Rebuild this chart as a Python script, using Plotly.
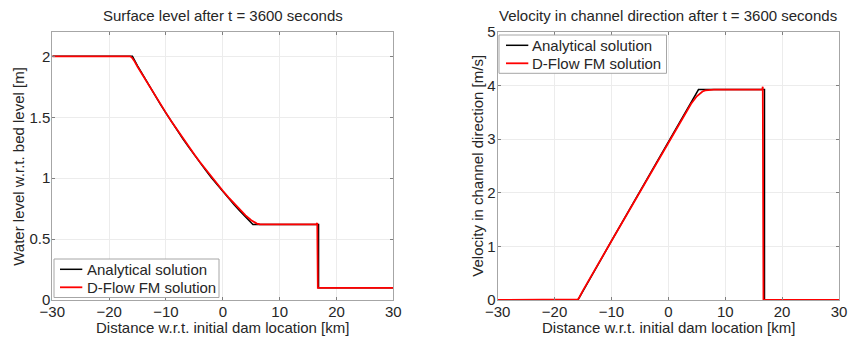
import plotly.graph_objects as go

# ---------------- data ----------------
# Surface level, analytical solution (x in km, level in m)
x_h_ana = [-30, -15.9, -15, -14, -13, -12, -11, -10, -9, -8, -7, -6, -5, -4, -3, -2, -1,
           0, 1, 2, 3, 4, 5, 5.3, 16.85, 16.85, 30]
h_ana = [2.0, 2.0, 1.922, 1.841, 1.761, 1.683, 1.608, 1.534, 1.461, 1.391, 1.322, 1.255,
         1.189, 1.126, 1.064, 1.004, 0.946, 0.889, 0.834, 0.781, 0.730, 0.680, 0.632,
         0.620, 0.620, 0.10, 0.10]

# Surface level, D-Flow FM solution
x_h_fm = [-30, -16.3, -16.0, -15.6, -15, -14, -13, -12, -11, -10, -9, -8, -7, -6, -5, -4,
          -3, -2, -1, 0, 1, 2, 3, 4, 5, 5.5, 6, 6.5, 7, 8, 16.5, 16.62, 16.72, 16.76, 30]
h_fm = [2.0, 2.0, 1.99, 1.965, 1.915, 1.838, 1.760, 1.683, 1.609, 1.536, 1.464, 1.394,
        1.326, 1.259, 1.194, 1.131, 1.070, 1.010, 0.953, 0.897, 0.843, 0.791, 0.742,
        0.695, 0.655, 0.638, 0.627, 0.622, 0.620, 0.620, 0.622, 0.633, 0.10, 0.10, 0.10]

# Velocity, analytical solution (x in km, velocity in m/s)
x_u_ana = [-30, -15.9, -10, 0, 5.3, 16.9, 16.9, 30]
u_ana = [0.0, 0.0, 1.101, 2.953, 3.925, 3.925, 0.0, 0.0]

# Velocity, D-Flow FM solution
x_u_fm = [-30, -16.2, -15.9, -15.6, -15, -10, 0, 4, 5, 5.5, 6, 6.5, 7, 7.5, 8, 16.5,
          16.6, 16.72, 16.76, 30]
u_fm = [0.0, 0.0, 0.01, 0.06, 0.18, 1.10, 2.94, 3.66, 3.80, 3.855, 3.89, 3.91, 3.918,
        3.922, 3.925, 3.925, 3.98, 0.0, 0.0, 0.0]

x_ticks = [-30, -20, -10, 0, 10, 20, 30]
h_ticks = [0, 0.5, 1, 1.5, 2]
h_tick_text = ["0", "0.5", "1", "1.5", "2"]
u_ticks = [0, 1, 2, 3, 4, 5]

title_left = "Surface level after t = 3600 seconds"
title_right = "Velocity in channel direction after t = 3600 seconds"
xlabel = "Distance w.r.t. initial dam location [km]"
ylabel_left = "Water level w.r.t. bed level [m]"
ylabel_right = "Velocity in channel direction [m/s]"
name_ana = "Analytical solution"
name_fm = "D-Flow FM solution"
series_names = [name_ana, name_fm]
series_colors = ["black", "#ff0000"]
series_widths = [1.5, 1.8]

# ---------------- figure ----------------
W, H = 850, 342
FONT = "Liberation Sans, Arial, sans-serif"
FS = 15
TXT = "#262626"
FRAME = "#a6a6a6"

fig = go.Figure()
fig.add_trace(go.Scatter(x=x_h_ana, y=h_ana, mode="lines", name=name_ana,
                         line=dict(color=series_colors[0], width=series_widths[0]),
                         xaxis="x", yaxis="y", showlegend=False))
fig.add_trace(go.Scatter(x=x_h_fm, y=h_fm, mode="lines", name=name_fm,
                         line=dict(color=series_colors[1], width=series_widths[1]),
                         xaxis="x", yaxis="y", showlegend=False))
fig.add_trace(go.Scatter(x=x_u_ana, y=u_ana, mode="lines", name=name_ana,
                         line=dict(color=series_colors[0], width=series_widths[0]),
                         xaxis="x2", yaxis="y2", showlegend=False))
fig.add_trace(go.Scatter(x=x_u_fm, y=u_fm, mode="lines", name=name_fm,
                         line=dict(color=series_colors[1], width=series_widths[1]),
                         xaxis="x2", yaxis="y2", showlegend=False))

def px_x(p):
    return p / W

def px_y(p):
    return 1 - p / H

axis_common = dict(
    showline=True, linecolor=FRAME, linewidth=1, mirror="ticks",
    ticks="inside", ticklen=3, tickcolor="#808080", tickwidth=1,
    showgrid=True, gridcolor="#ececec", gridwidth=1,
    zeroline=False, tickfont=dict(family=FONT, size=FS, color=TXT),
    automargin=False,
)

fig.update_layout(
    width=W, height=H, margin=dict(l=0, r=0, t=0, b=0, pad=0, autoexpand=False),
    paper_bgcolor="white", plot_bgcolor="white",
    font=dict(family=FONT, size=FS, color=TXT),
    xaxis=dict(domain=[px_x(52.3), px_x(393.3)], range=[-30, 30], tickvals=x_ticks,
               anchor="y", ticklabelstandoff=-2, **axis_common),
    yaxis=dict(domain=[px_y(300), px_y(32)], range=[0, 2.2], tickvals=h_ticks,
               ticktext=h_tick_text, anchor="x", ticklabelstandoff=-2, **axis_common),
    xaxis2=dict(domain=[px_x(497.7), px_x(839)], range=[-30, 30], tickvals=x_ticks,
                anchor="y2", ticklabelstandoff=-2, **axis_common),
    yaxis2=dict(domain=[px_y(300), px_y(32)], range=[0, 5], tickvals=u_ticks,
                anchor="x2", ticklabelstandoff=-2, **axis_common),
    showlegend=False,
)

ann = []
def add_text(text, x, y, xanchor="center", angle=0):
    ann.append(dict(text=text, x=px_x(x), y=px_y(y), xref="paper", yref="paper",
                    xanchor=xanchor, yanchor="middle", showarrow=False, textangle=angle,
                    font=dict(family=FONT, size=FS, color=TXT)))

add_text(title_left, 222.8, 15)
add_text(title_right, 668.3, 15)
add_text(xlabel, 222.8, 327)
add_text(xlabel, 668.3, 327)
add_text(ylabel_left, 18.3, 166.5, angle=-90)
add_text(ylabel_right, 476.7, 166, angle=-90)

# custom legend boxes (MATLAB-style: short line samples, compact rows)
shapes = []
def add_legend(box_l, box_t, box_r, box_b, line_l, line_r, text_x, rows):
    shapes.append(dict(type="rect", xref="paper", yref="paper", layer="above",
                       x0=px_x(box_l), x1=px_x(box_r), y0=px_y(box_b), y1=px_y(box_t),
                       line=dict(color=FRAME, width=1), fillcolor="white"))
    for name, color, width, ry in zip(series_names, series_colors, series_widths, rows):
        shapes.append(dict(type="line", xref="paper", yref="paper", layer="above",
                           x0=px_x(line_l), x1=px_x(line_r), y0=px_y(ry), y1=px_y(ry),
                           line=dict(color=color, width=width)))
        add_text(name, text_x, ry, xanchor="left")

add_legend(54, 259, 219, 297.5, 60, 82.3, 84.5, [269.3, 287.3])
add_legend(499, 35, 666.5, 73.3, 506, 528.3, 529.5, [45.3, 63.3])

fig.update_layout(annotations=ann, shapes=shapes)

fig.write_html("out.html")
